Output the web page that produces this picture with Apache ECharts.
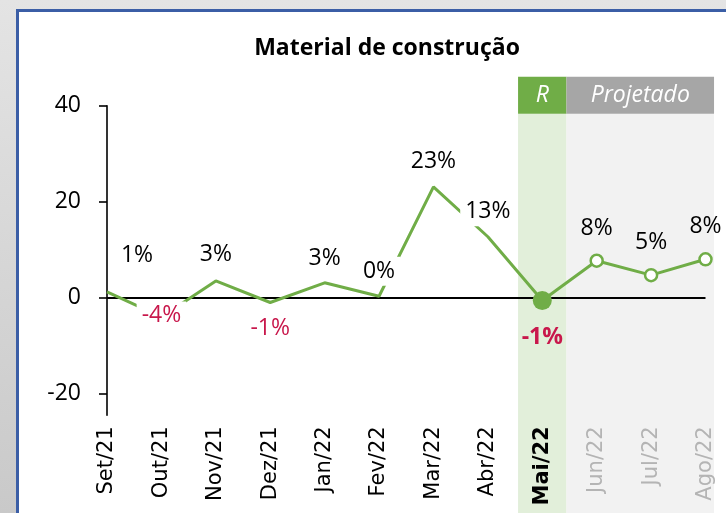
<!DOCTYPE html>
<html>
<head>
<meta charset="utf-8">
<script src="https://cdn.jsdelivr.net/npm/echarts@6/dist/echarts.min.js"></script>
<style>
  html, body { margin: 0; padding: 0; background: #dcdcdc; }
  #chart { width: 726px; height: 513px; }
</style>
</head>
<body>
<div id="chart"></div>
<script>
const categories = ['Set/21','Out/21','Nov/21','Dez/21','Jan/22','Fev/22','Mar/22','Abr/22','Mai/22','Jun/22','Jul/22','Ago/22'];
const values = [1.2, -4.0, 3.5, -1.0, 3.1, 0.3, 23.1, 12.7, -0.6, 7.7, 4.7, 8.0];
const valueLabels = ['1%','-4%','3%','-1%','3%','0%','23%','13%','-1%','8%','5%','8%'];
const yTicks = [-20, 0, 20, 40];
const title = 'Material de construção';
const realizedIndex = 8;      // Mai/22
const projectedIndex = [9, 10, 11];
const headerR = 'R';
const headerProj = 'Projetado';

const GREEN = '#70AD47';
const RED = '#C8174B';
const FONT = '"Open Sans", sans-serif';

// label placement (styling)
const labelOffsets = [[30,-36],[0,-1],[0,-26],[0,26],[0,-24],[0,-25],[0,-25],[0,-25],[0,37],[0,-32],[0,-33],[0,-33]];
const labelBg = [false,true,false,false,false,true,false,true,false,false,false,false];

const lineData = values.map((v, i) => {
  const isReal = i === realizedIndex;
  const isProj = projectedIndex.includes(i);
  const neg = valueLabels[i].startsWith('-');
  return {
    value: v,
    symbol: 'circle',
    symbolSize: isReal ? 19 : (isProj ? 12 : 1),
    itemStyle: isReal ? { color: GREEN, borderWidth: 0 }
      : isProj ? { color: '#ffffff', borderColor: GREEN, borderWidth: 2.5 }
      : { color: 'rgba(0,0,0,0)', borderWidth: 0 },
    label: {
      show: true,
      position: 'inside',
      offset: labelOffsets[i],
      formatter: valueLabels[i],
      color: neg ? RED : '#000',
      fontWeight: isReal ? 'bold' : 'normal',
      fontSize: 23,
      fontFamily: FONT,
      backgroundColor: labelBg[i] ? '#ffffff' : 'transparent',
      padding: labelBg[i] ? [3, 5] : 0
    }
  };
});

const xFont = '"DejaVu Sans", sans-serif';
const chart = echarts.init(document.getElementById('chart'));
chart.setOption({
  animation: false,
  graphic: [
    { type: 'rect', z: -10, shape: { x: 0, y: 0, width: 726, height: 513 },
      style: { fill: new echarts.graphic.LinearGradient(0, 0, 0, 1, [{offset: 0, color: '#e4e4e4'}, {offset: 1, color: '#c9c9c9'}]) } },
    { type: 'rect', z: -9, shape: { x: 17.5, y: 10.5, width: 760, height: 560 },
      style: { fill: '#ffffff', stroke: '#3B5EA6', lineWidth: 3 } }
  ],
  title: {
    text: title,
    left: 382, top: 32, textAlign: 'center',
    textStyle: { fontFamily: FONT, fontWeight: 'bold', fontSize: 23, color: '#000' }
  },
  grid: { left: 107, right: 20.5, top: 105.7, bottom: 97.7, containLabel: false },
  xAxis: {
    type: 'category',
    data: categories,
    boundaryGap: false,
    axisLine: { show: false },
    axisTick: { show: false },
    axisLabel: {
      rotate: 90,
      margin: 11,
      formatter: (v) => {
        const idx = categories.indexOf(v);
        if (idx === realizedIndex) return '{b|' + v + '}';
        if (projectedIndex.includes(idx)) return '{p|' + v + '}';
        return '{n|' + v + '}';
      },
      rich: {
        n: { fontFamily: xFont, fontSize: 21, color: '#000' },
        b: { fontFamily: xFont, fontSize: 21, color: '#000', fontWeight: 'bold' },
        p: { fontFamily: xFont, fontSize: 21, color: '#B4B4B4' }
      }
    },
    splitLine: { show: false }
  },
  yAxis: {
    type: 'value',
    min: -24.5, max: 40,
    axisLine: { show: true, lineStyle: { color: '#000', width: 1.6 } },
    axisTick: { show: true, length: 8, lineStyle: { color: '#000', width: 1.6 }, customValues: yTicks },
    axisLabel: { customValues: yTicks, margin: 26, fontFamily: FONT, fontSize: 23, color: '#000' },
    splitLine: { show: false }
  },
  series: [
    {
      type: 'custom',
      z: 0,
      clip: false,
      silent: true,
      data: [[realizedIndex, projectedIndex[projectedIndex.length - 1]]],
      renderItem: function (params, api) {
        const step = api.size([1, 0])[0];
        const xR = api.coord([api.value(0), 0])[0];
        const xL = api.coord([api.value(1), 0])[0];
        const yTop = api.coord([0, 40])[1];
        const h = api.getHeight();
        const rL = xR - 0.445 * step, rR = xR + 0.445 * step;
        const pR = xL + 0.157 * step;
        const hTop = yTop - 29, hBot = yTop + 8;
        return {
          type: 'group',
          children: [
            { type: 'rect', shape: { x: rL, y: hBot, width: rR - rL, height: h - hBot }, style: { fill: '#E2EFDA' } },
            { type: 'rect', shape: { x: rR, y: hBot, width: pR - rR, height: h - hBot }, style: { fill: '#F2F2F2' } },
            { type: 'rect', shape: { x: rL, y: hTop, width: rR - rL, height: hBot - hTop }, style: { fill: GREEN } },
            { type: 'rect', shape: { x: rR, y: hTop, width: pR - rR, height: hBot - hTop }, style: { fill: '#A6A6A6' } },
            { type: 'text', style: { x: (rL + rR) / 2, y: (hTop + hBot) / 2, text: headerR, fill: '#fff', align: 'center', verticalAlign: 'middle', font: 'italic 23px "Open Sans"' } },
            { type: 'text', style: { x: (rR + pR) / 2, y: (hTop + hBot) / 2, text: headerProj, fill: '#fff', align: 'center', verticalAlign: 'middle', font: 'italic 23px "Open Sans"' } }
          ]
        };
      }
    },
    {
      type: 'line',
      z: 3,
      data: lineData,
      showSymbol: true,
      lineStyle: { color: GREEN, width: 3 },
      markLine: {
        silent: true,
        symbol: 'none',
        label: { show: false },
        lineStyle: { color: '#000', width: 2, type: 'solid' },
        data: [{ yAxis: 0 }],
        z: 1
      }
    }
  ]
});
</script>
</body>
</html>
